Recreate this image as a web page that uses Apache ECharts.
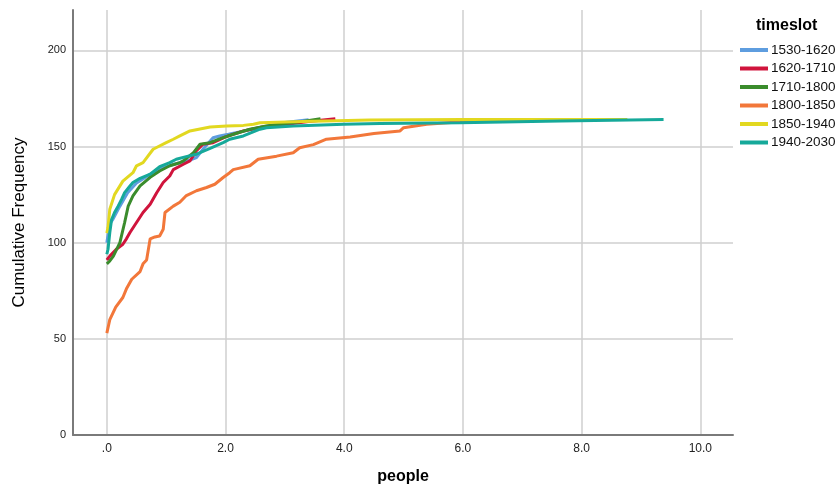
<!DOCTYPE html>
<html>
<head>
<meta charset="utf-8">
<script src="https://cdn.jsdelivr.net/npm/echarts@6/dist/echarts.min.js"></script>
<style>
html,body{margin:0;padding:0;background:#fff;}
#chart{width:838px;height:490px;}
</style>
</head>
<body>
<div id="chart"></div>
<script>
// Tick labels
const xTicks = [0, 2, 4, 6, 8, 10];
const yTicks = [0, 50, 100, 150, 200];
const seriesNames = ['1530-1620', '1620-1710', '1710-1800', '1800-1850', '1850-1940', '1940-2030'];

// 1530-1620
const people_1530 = [0, 0.05, 0.1, 0.22, 0.35, 0.5, 0.7, 0.9, 1.1, 1.23, 1.4, 1.51, 1.62, 1.79, 1.9, 2.05, 2.3, 2.6, 3.0, 3.4];
const freq_1530   = [100, 110, 112, 119, 126, 131, 135, 138.5, 140.5, 141.6, 143, 144.3, 148.6, 154.6, 155.5, 156.4, 158, 160, 162.5, 164];
// 1620-1710
const people_1620 = [0, 0.05, 0.16, 0.27, 0.33, 0.39, 0.5, 0.61, 0.73, 0.84, 0.95, 1.06, 1.12, 1.29, 1.4, 1.51, 1.62, 1.79, 2.0, 2.3, 2.6, 3.0, 3.4, 3.85];
const freq_1620   = [91, 93, 96.6, 99.2, 102, 105.3, 110.5, 115.7, 120, 126, 131.3, 134.7, 138, 140.8, 142.5, 147.9, 151.2, 152, 155, 158.1, 160, 161.5, 163, 164.5];
// 1710-1800
const people_1710 = [0, 0.05, 0.11, 0.22, 0.3, 0.36, 0.44, 0.56, 0.73, 0.89, 1.06, 1.23, 1.29, 1.46, 1.57, 1.74, 1.9, 2.13, 2.41, 2.69, 3.0, 3.3, 3.6];
const freq_1710   = [89, 90.5, 93, 100, 110.5, 119, 124.3, 129.5, 134, 137.3, 140, 141.6, 142.5, 146.8, 151.2, 152, 154, 156.4, 159, 160.7, 162, 163, 164.5];
// 1800-1850
const people_1800 = [0, 0.02, 0.05, 0.15, 0.27, 0.33, 0.42, 0.56, 0.61, 0.67, 0.73, 0.81, 0.89, 0.95, 0.98, 1.12, 1.23, 1.34, 1.51, 1.68, 1.82, 1.96, 2.07, 2.13, 2.41, 2.55, 2.86, 3.14, 3.25, 3.48, 3.7, 4.1, 4.5, 4.94, 5.0, 5.39, 5.8, 6.5, 7.2];
const freq_1800   = [53, 54, 60, 66.5, 71.5, 76, 81, 85, 89, 91, 102, 103, 103.5, 107, 115.7, 119, 121, 124.5, 127, 128.7, 130.4, 133.9, 136.4, 138, 140, 143.4, 145, 146.8, 149.4, 151, 153.8, 155, 156.8, 158.1, 159.8, 161.6, 162.5, 163.5, 164];
// 1850-1940
const people_1850 = [0, 0.02, 0.05, 0.13, 0.27, 0.44, 0.5, 0.61, 0.78, 1.0, 1.12, 1.23, 1.4, 1.74, 2.02, 2.3, 2.47, 2.58, 3.3, 4.43, 6.0, 8.77];
const freq_1850   = [105, 108, 117.4, 125, 132, 136.4, 140, 141.6, 148.6, 152, 153.8, 155.5, 158.1, 160.2, 160.7, 161, 161.6, 162.4, 163, 163.8, 164, 164];
// 1940-2030
const people_1940 = [0, 0.02, 0.05, 0.08, 0.13, 0.19, 0.25, 0.3, 0.39, 0.44, 0.56, 0.73, 0.89, 1.06, 1.17, 1.37, 1.51, 1.74, 1.96, 2.07, 2.3, 2.58, 2.69, 3.14, 3.99, 4.6, 5.95, 7.64, 9.38];
const freq_1940   = [94, 96.6, 105.3, 112, 115.7, 119, 122.6, 126, 129.5, 131.3, 133.5, 135.6, 139.5, 141.6, 143.4, 145, 146, 149, 152, 153.8, 155.5, 159, 159.8, 160.7, 161.6, 162, 162.4, 163.3, 164];

const colors = ['#5e9ddf', '#d0143c', '#3a8c2c', '#f2773a', '#e2d820', '#16a99a'];
const peopleSets = [people_1530, people_1620, people_1710, people_1800, people_1850, people_1940];
const freqSets = [freq_1530, freq_1620, freq_1710, freq_1800, freq_1850, freq_1940];

const series = seriesNames.map((name, i) => ({
  name: name,
  type: 'line',
  data: peopleSets[i].map((x, j) => [x, freqSets[i][j]]),
  showSymbol: false,
  symbol: 'none',
  smooth: false,
  lineStyle: { width: 3, color: colors[i] },
  itemStyle: { color: colors[i] },
  emphasis: { disabled: true },
  animation: false
}));

const chart = echarts.init(document.getElementById('chart'));
chart.setOption({
  animation: false,
  backgroundColor: '#ffffff',
  color: colors,
  title: {
    text: 'timeslot',
    left: 751,
    top: 13,
    textStyle: { fontFamily: 'Liberation Sans, Arial, sans-serif', fontWeight: 'bold', fontSize: 16, color: '#000' }
  },
  legend: {
    orient: 'vertical',
    left: 735,
    top: 38,
    itemWidth: 28,
    itemHeight: 4,
    itemGap: 4.5,
    icon: 'rect',
    data: seriesNames,
    textStyle: { fontFamily: 'Liberation Sans, Arial, sans-serif', fontSize: 13.5, color: '#111', padding: [0, 0, 0, -2], lineHeight: 14 },
    selectedMode: false
  },
  grid: { left: 73, right: 105, top: 10, bottom: 54 },
  xAxis: {
    type: 'value',
    min: -0.57,
    max: 10.55,
    name: 'people',
    nameLocation: 'middle',
    nameGap: 34,
    nameTextStyle: { fontFamily: 'Liberation Sans, Arial, sans-serif', fontWeight: 'bold', fontSize: 16, color: '#000' },
    axisLine: { show: true, onZero: false, lineStyle: { color: '#7a7a7a', width: 2 } },
    axisTick: { show: false, customValues: xTicks },
    axisLabel: {
      customValues: xTicks,
      formatter: v => (v === 0 ? '.0' : v.toFixed(1)),
      fontFamily: 'Liberation Sans Narrow, Liberation Sans, Arial, sans-serif',
      fontSize: 12, color: '#222', margin: 8
    },
    splitLine: { show: true, lineStyle: { color: '#cfcfcf', width: 1.5 } }
  },
  yAxis: {
    type: 'value',
    min: 0,
    max: 221,
    name: 'Cumulative Frequency',
    nameLocation: 'middle',
    nameGap: 45,
    nameTextStyle: { fontFamily: 'Liberation Sans, Arial, sans-serif', fontSize: 17, color: '#000' },
    axisLine: { show: true, onZero: false, lineStyle: { color: '#7a7a7a', width: 2 } },
    axisTick: { show: false, customValues: yTicks },
    axisLabel: {
      customValues: yTicks,
      fontFamily: 'Liberation Sans, Arial, sans-serif',
      fontSize: 11, color: '#222', margin: 7
    },
    splitLine: { show: true, lineStyle: { color: '#cfcfcf', width: 1.5 } }
  },
  series: series
});
</script>
</body>
</html>
